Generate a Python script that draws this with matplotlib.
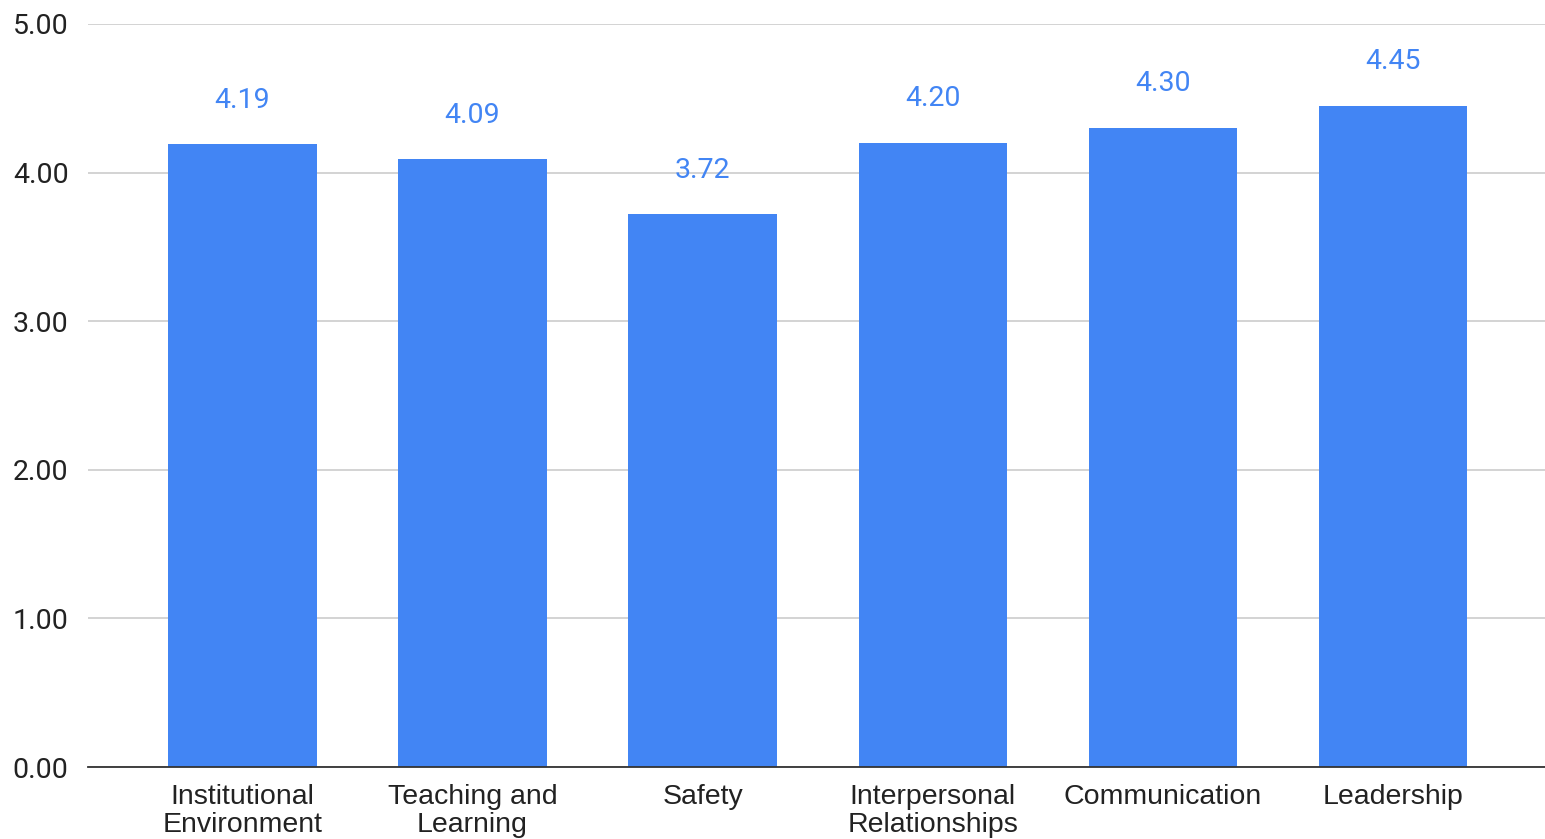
import matplotlib.pyplot as plt

# dati
categorie = ['Institutional\nEnvironment', 'Teaching and\nLearning', 'Safety',
             'Interpersonal\nRelationships', 'Communication', 'Leadership']
valori = [4.19, 4.09, 3.72, 4.20, 4.30, 4.45]
tick_y = [0, 1, 2, 3, 4, 5]

colore = '#4285F4'

fig = plt.figure(figsize=(15.45, 8.39), dpi=100)
ax = fig.add_axes([0.057, 0.0858, 0.943, 0.8856])

x = range(len(categorie))
ax.bar(x, valori, width=0.645, color=colore, zorder=3)

for xi, v in zip(x, valori):
    ax.annotate(f'{v:.2f}', (xi, v), xytext=(0, 22), textcoords='offset points',
                ha='center', va='bottom', color=colore, fontsize=20.5,
                family=['Roboto', 'DejaVu Sans'], zorder=4)

ax.set_xlim(-0.67, 5.66)
ax.set_ylim(0, 5)
ax.set_yticks(tick_y)
ax.set_yticklabels([f'{t:.2f}' for t in tick_y], family=['Roboto', 'DejaVu Sans'],
                   fontsize=20.5, color='#222222')
ax.set_xticks(list(x))
ax.set_xticklabels(categorie, family='Liberation Sans', fontsize=20.5, color='#222222',
                   linespacing=1.1)
ax.tick_params(length=0)
ax.tick_params(axis='x', pad=12)
ax.tick_params(axis='y', pad=14)

ax.grid(axis='y', color='#cccccc', linewidth=1.2, zorder=0)
for s in ['top', 'right', 'left']:
    ax.spines[s].set_visible(False)
ax.spines['bottom'].set_color('#333333')
ax.spines['bottom'].set_linewidth(1.3)
ax.spines['bottom'].set_zorder(5)

fig.savefig('out.png', dpi=100)
